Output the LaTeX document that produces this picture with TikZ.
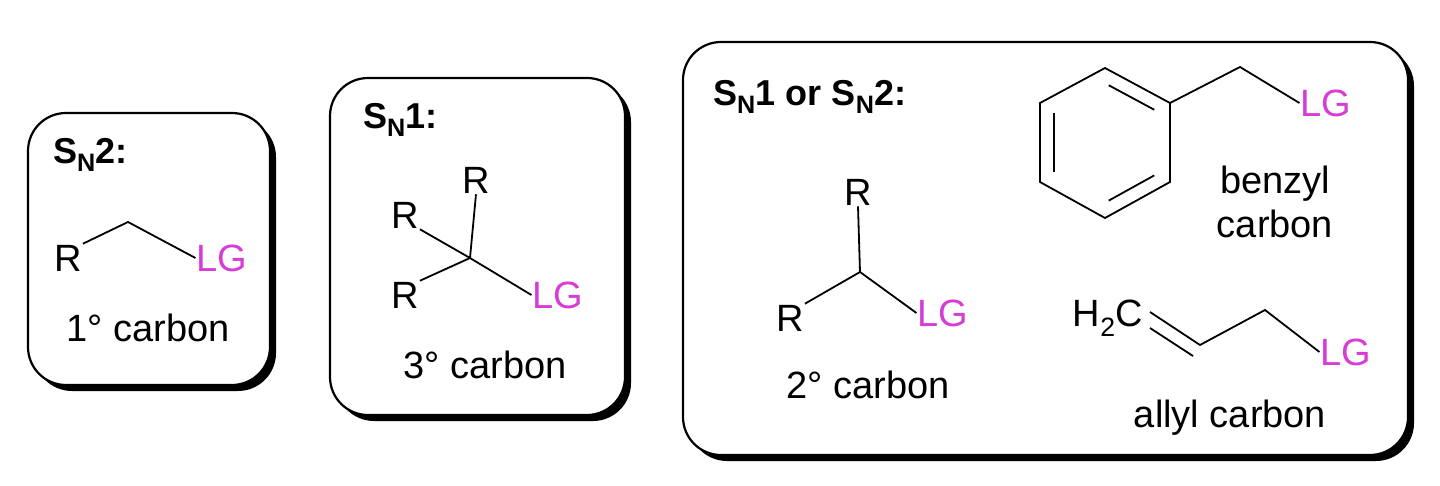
\documentclass[tikz,border=0pt]{standalone}
\usepackage{fontspec}
\setmainfont{Liberation Sans}
\usetikzlibrary{calc}
\definecolor{lgc}{RGB}{214,60,214}
\begin{document}
\begin{tikzpicture}[x=1pt,y=-1pt,
  box/.style={draw=black,line width=2.2pt,fill=white,rounded corners=38pt},
  shadow/.style={fill=black,rounded corners=38pt},
  bond/.style={line width=1.8pt},
  txt/.style={font=\fontsize{38}{44}\selectfont,inner sep=1pt},
  ttl/.style={font=\fontsize{36}{42}\selectfont\bfseries,inner sep=1pt,anchor=west},
  lg/.style={txt,text=lgc}]
\useasboundingbox (0,0) rectangle (1440,486);
% boxes
\fill[shadow] (34,119) rectangle (276,391);
\draw[box] (28,113) rectangle (270,385);
\fill[shadow] (336,84) rectangle (631,421);
\draw[box] (330,78) rectangle (625,415);
\fill[shadow] (689,48) rectangle (1414,461);
\draw[box] (683,42) rectangle (1408,455);
% box 1
\node[ttl] (t1) at (52,155) {S\textsubscript{N}2:};
\node[txt] (r1) at (68,258) {R};
\coordinate (c1a) at (128,222);
\node[lg] (lg1) at (222,258) {LG};
\draw[bond] (r1.north east) -- (c1a) -- (lg1.west);
\node[txt] (l1) at (148,328) {1° carbon};
% box 2
\node[ttl] (t2) at (362,120) {S\textsubscript{N}1:};
\coordinate (c2) at (470,258);
\node[txt] (r2a) at (476,180) {R};
\node[txt] (r2b) at (405,215) {R};
\node[txt] (r2c) at (405,295) {R};
\node[lg] (lg2) at (558,295) {LG};
\draw[bond] (r2a.south) -- (c2);
\draw[bond] (r2b.south east) -- (c2);
\draw[bond] (r2c.north east) -- (c2);
\draw[bond] (c2) -- (lg2.west);
\node[txt] (l2) at (485,365) {3° carbon};
% box 3
\node[ttl] (t3) at (712,97) {S\textsubscript{N}1 or S\textsubscript{N}2:};
\coordinate (c3) at (860,272);
\node[txt] (r3a) at (858,192) {R};
\node[txt] (r3b) at (790,318) {R};
\node[lg] (lg3) at (943,313) {LG};
\draw[bond] (r3a.south) -- (c3);
\draw[bond] (r3b.north east) -- (c3) -- (lg3.west);
\node[txt] (l3) at (868,385) {2° carbon};
% benzene
\coordinate (b1) at (1105,68);
\coordinate (b2) at (1170,103);
\coordinate (b3) at (1170,182);
\coordinate (b4) at (1105,218);
\coordinate (b5) at (1040,182);
\coordinate (b6) at (1040,103);
\draw[bond] (b1)--(b2)--(b3)--(b4)--(b5)--(b6)--cycle;
\draw[bond] ($(b1)!0.15!(b2)+(-6,12)$) -- ($(b1)!0.85!(b2)+(-6,12)$);
\draw[bond] ($(b3)!0.15!(b4)+(-6,-12)$) -- ($(b3)!0.85!(b4)+(-6,-12)$);
\draw[bond] (1054,113) -- (1054,172);
\coordinate (bc) at (1240,67);
\node[lg] (lg4) at (1326,103) {LG};
\draw[bond] (b2) -- (bc) -- (lg4.west);
\node[txt,align=center] (l4) at (1275,202) {benzyl\\carbon};
% allyl
\node[txt] (h2c) at (1108,318) {H\textsubscript{2}C};
\coordinate (a1) at (1150,312);
\coordinate (a2) at (1200,345);
\coordinate (a3) at (1265,310);
\node[lg] (lg5) at (1346,352) {LG};
\draw[bond] (a1) -- (a2) -- (a3) -- (lg5.west);
\draw[bond] (1150,328) -- (1193,356);
\node[txt] (l5) at (1230,418) {allyl carbon};
\end{tikzpicture}
\end{document}
